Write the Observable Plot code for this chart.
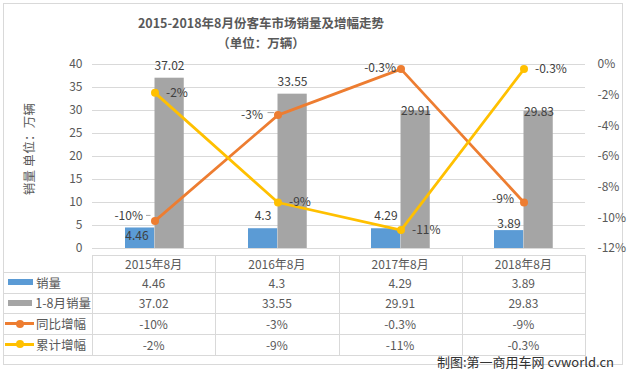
<!DOCTYPE html>
<html><head><meta charset="utf-8">
<script src="https://cdn.jsdelivr.net/npm/d3@7"></script>
<script src="https://cdn.jsdelivr.net/npm/@observablehq/plot@0.6"></script>
<style>
body{margin:0;background:#fff;font-family:"Noto Sans CJK SC","Noto Sans",sans-serif;color:#595959}
#wrap{position:relative;width:628px;height:376px;overflow:hidden;background:#fff}
.abs{position:absolute;font-family:"Noto Sans CJK SC","Noto Sans",sans-serif}
#frame{left:3px;top:3px;width:620px;height:362px;border:1px solid #d9d9d9;box-sizing:border-box}
.title{left:0;width:522px;text-align:center;font-weight:bold;font-size:12.5px;color:#595959;line-height:18px}
#ylab{left:-21px;top:140px;width:100px;text-align:center;font-size:12.5px;transform:rotate(-90deg);line-height:18px;white-space:nowrap;letter-spacing:0.3px}
.hl{height:1px;background:#d9d9d9}
.vl{width:1px;background:#d9d9d9}
.cell{font-size:12px;text-align:center;white-space:nowrap;display:flex;align-items:center;justify-content:center}
.lcell{font-size:12.5px;white-space:nowrap;display:flex;align-items:center}
#caption{right:14px;top:353px;font-size:13px;color:#333;line-height:18px;white-space:nowrap}
svg{position:absolute;left:0;top:0}
</style></head><body><div id="wrap"></div><script>
const categories = ["2015年8月", "2016年8月", "2017年8月", "2018年8月"];
const monthlySales = [4.46, 4.3, 4.29, 3.89];
const ytdSales = [37.02, 33.55, 29.91, 29.83];
const yoyGrowth = [-10.2, -3.3, -0.3, -9.0];
const ytdGrowth = [-1.85, -9.0, -10.8, -0.3];
const yoyLabels = ["-10%", "-3%", "-0.3%", "-9%"];
const ytdLabels = ["-2%", "-9%", "-11%", "-0.3%"];
const leftTicks = [0, 5, 10, 15, 20, 25, 30, 35, 40];
const rightTicks = [0, -2, -4, -6, -8, -10, -12];
const seriesNames = ["销量", "1-8月销量", "同比增幅", "累计增幅"];
const seriesColors = ["#5B9BD5", "#A5A5A5", "#ED7D31", "#FFC000"];
const titleText = "2015-2018年8月份客车市场销量及增幅走势";
const subtitleText = "（单位：万辆）";
const yAxisTitle = "销量 单位：万辆";
const captionText = "制图:第一商用车网 cvworld.cn";

const wrap = document.getElementById("wrap");
function add(cls, style, text) {
  const d = document.createElement("div");
  d.className = "abs " + cls;
  Object.assign(d.style, style);
  if (text != null) d.textContent = text;
  wrap.appendChild(d);
  return d;
}
add("", {}, null).id = "frame";

const leftMax = leftTicks[leftTicks.length - 1];
const pctMin = rightTicks[rightTicks.length - 1], pctMax = rightTicks[0];
const toLeft = p => (p - pctMin) * leftMax / (pctMax - pctMin);
const fromLeft = v => v * (pctMax - pctMin) / leftMax + pctMin;

const data = categories.map((c, i) => ({
  i, cat: c, sales: monthlySales[i], ytd: ytdSales[i],
  yoy: toLeft(yoyGrowth[i]), ytdG: toLeft(ytdGrowth[i]),
  yoyL: yoyLabels[i], ytdL: ytdLabels[i]
}));

const font = {fontSize: 12, fill: "#404040"};
const sel = idx => d => idx.includes(d.i);

const chart = Plot.plot({
  width: 628, height: 376,
  marginTop: 64, marginBottom: 128, marginLeft: 92, marginRight: 43,
  style: {fontFamily: '"Noto Sans CJK SC","Noto Sans",sans-serif', fontSize: "12px", color: "#595959", background: "transparent", overflow: "visible"},
  x: {type: "band", domain: categories, padding: 0, axis: null},
  y: {domain: [0, leftMax], axis: null},
  marks: [
    Plot.gridY(leftTicks, {stroke: "#d9d9d9", strokeOpacity: 1}),
    Plot.axisY(leftTicks, {anchor: "left", tickSize: 0, tickPadding: 10, label: null, fontSize: 12, fill: "#595959"}),
    Plot.axisY(rightTicks.map(toLeft), {anchor: "right", tickSize: 0, tickPadding: 12, label: null, fontSize: 12, fill: "#595959",
      tickFormat: v => `${Math.round(fromLeft(v))}%`}),
    Plot.barY(data, {x: "cat", y: "sales", fill: seriesColors[0], insetLeft: 32, insetRight: 61.75}),
    Plot.barY(data, {x: "cat", y: "ytd", fill: seriesColors[1], insetLeft: 61.5, insetRight: 32.25}),
    // leader lines of the first two yoy labels
    Plot.tickY(data, {filter: sel([0]), x: "cat", y: "yoy", stroke: "#a6a6a6", strokeWidth: 1, insetLeft: 53, insetRight: 65.5, dy: -5.5}),
    Plot.tickY(data, {filter: sel([1]), x: "cat", y: "yoy", stroke: "#a6a6a6", strokeWidth: 1, insetLeft: 51.5, insetRight: 65, dy: -2.5}),
    Plot.line(data, {x: "cat", y: "yoy", stroke: seriesColors[2], strokeWidth: 2.75}),
    Plot.dot(data, {x: "cat", y: "yoy", fill: seriesColors[2], r: 4}),
    Plot.line(data, {x: "cat", y: "ytdG", stroke: seriesColors[3], strokeWidth: 2.75}),
    Plot.dot(data, {x: "cat", y: "ytdG", fill: seriesColors[3], r: 4}),
    // blue bar labels
    Plot.text(data, {filter: sel([0]), x: "cat", y: "sales", text: d => String(d.sales), dx: -18, dy: 8.5, ...font}),
    Plot.text(data, {filter: sel([1, 2]), x: "cat", y: "sales", text: d => String(d.sales), dx: -15, dy: -13, ...font}),
    Plot.text(data, {filter: sel([3]), x: "cat", y: "sales", text: d => String(d.sales), dx: -15, dy: -6, ...font}),
    // gray bar labels
    Plot.text(data, {filter: sel([0, 1]), x: "cat", y: "ytd", text: d => String(d.ytd), dx: 14.5, dy: -12.5, ...font}),
    Plot.text(data, {filter: sel([2, 3]), x: "cat", y: "ytd", text: d => String(d.ytd), dx: 15, dy: 0.5, ...font}),
    // yoy labels
    Plot.text(data, {filter: sel([0]), x: "cat", y: "yoy", text: "yoyL", textAnchor: "end", dx: -12, dy: -5, ...font}),
    Plot.text(data, {filter: sel([1]), x: "cat", y: "yoy", text: "yoyL", textAnchor: "end", dx: -15, dy: 0, ...font}),
    Plot.text(data, {filter: sel([2]), x: "cat", y: "yoy", text: "yoyL", textAnchor: "end", dx: -5, dy: -1, ...font}),
    Plot.text(data, {filter: sel([3]), x: "cat", y: "yoy", text: "yoyL", textAnchor: "end", dx: -10, dy: -3.5, ...font}),
    // ytd growth labels
    Plot.text(data, {x: "cat", y: "ytdG", text: "ytdL", textAnchor: "start", dx: 11, dy: 0, ...font}),
  ]
});
wrap.appendChild(chart);

add("title", {top: "14px"}, titleText);
add("title", {top: "34px"}, subtitleText);
add("", {}, yAxisTitle).id = "ylab";

// data table
const colX = [3, 92, 215.25, 338.5, 461.75, 585];
const rowY = [255, 272, 292.6, 313.3, 334, 354.5];
add("hl", {left: colX[1] + "px", top: rowY[0] + "px", width: (colX[5] - colX[1] + 1) + "px"});
for (let r = 1; r < rowY.length; r++) add("hl", {left: colX[0] + "px", top: rowY[r] + "px", width: (colX[5] - colX[0] + 1) + "px"});
for (let c = 1; c < colX.length; c++) add("vl", {left: colX[c] + "px", top: rowY[0] + "px", height: (rowY[5] - rowY[0]) + "px"});
categories.forEach((cat, i) => add("cell", {left: colX[i + 1] + "px", top: rowY[0] + "px", width: (colX[i + 2] - colX[i + 1]) + "px", height: (rowY[1] - rowY[0]) + "px"}, cat));
const rowsText = [monthlySales.map(String), ytdSales.map(String), yoyLabels, ytdLabels];
rowsText.forEach((vals, r) => {
  const top = rowY[r + 1], h = rowY[r + 2] - rowY[r + 1];
  const lc = add("lcell", {left: "5px", top: top + "px", width: "86px", height: h + "px"});
  const sw = document.createElement("span");
  sw.style.cssText = "position:relative;display:inline-block;width:29px;height:" + (r < 2 ? 6 : 3) + "px;margin-right:2px;background:" + seriesColors[r] + (r < 2 ? ";margin-left:3px;width:25px;margin-right:3px" : "");
  if (r >= 2) {
    const dot = document.createElement("span");
    dot.style.cssText = "position:absolute;left:11px;top:-2.5px;width:8px;height:8px;border-radius:50%;background:" + seriesColors[r];
    sw.appendChild(dot);
  }
  lc.appendChild(sw);
  lc.appendChild(document.createTextNode(seriesNames[r]));
  vals.forEach((v, i) => add("cell", {left: colX[i + 1] + "px", top: top + "px", width: (colX[i + 2] - colX[i + 1]) + "px", height: h + "px"}, v));
});
add("", {}, captionText).id = "caption";
</script></body></html>
